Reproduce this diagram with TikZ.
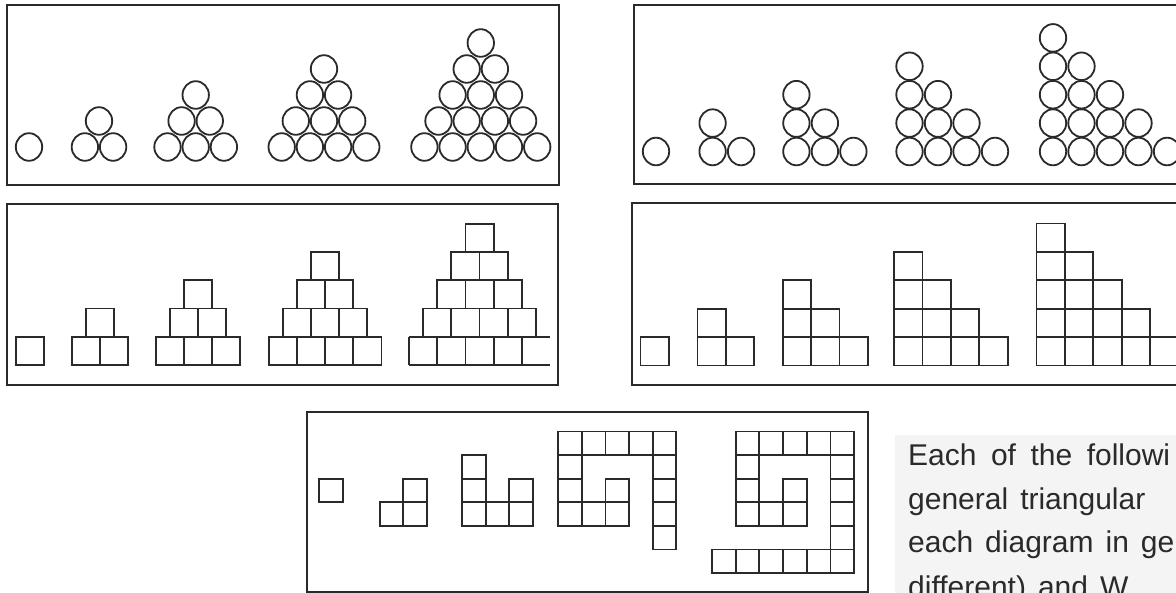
\documentclass[tikz,border=0pt]{standalone}
\usepackage{fontspec}
\setmainfont{Liberation Sans}
\begin{document}
\begin{tikzpicture}[x=1pt,y=-1pt]
\definecolor{ink}{HTML}{2A2A2A}
\tikzset{
  frame/.style={draw=ink, line width=1.4pt},
  ball/.style={draw=ink, line width=1.8pt},
  sq/.style={draw=ink, line width=1.8pt},
  para/.style={anchor=base west, inner sep=0pt, text=ink, font=\fontsize{30}{44}\selectfont},
}
\useasboundingbox (0,0) rectangle (1176,593);
\clip (0,0) rectangle (1176,593);
\fill[white] (0,0) rectangle (1176,593);

% frames
\draw[frame] (7,5) rectangle (559,185);
\draw[frame] (634,5) rectangle (1190,184);
\draw[frame] (7,204) rectangle (558,385);
\draw[frame] (632,203) rectangle (1190,385);
\draw[frame] (307,412) rectangle (868,592);

% top-left: triangular pyramids of circles
\foreach \cx/\n in {29/1, 99/2, 195.7/3, 324/4, 480.8/5}{
  \pgfmathtruncatemacro{\nm}{\n-1}
  \foreach \r in {0,...,\nm}{
    \pgfmathtruncatemacro{\k}{\n-\r-1}
    \foreach \i in {0,...,\k}{
      \draw[ball] ({\cx+(\i-\k/2)*28.2},{147-26*\r}) ellipse [x radius=13.2, y radius=13.8];
    }
  }
}

% top-right: staircases of circles
\foreach \xo/\n in {656/1, 712.6/2, 796.4/3, 909.5/4, 1053/5}{
  \pgfmathtruncatemacro{\nm}{\n-1}
  \foreach \j in {0,...,\nm}{
    \pgfmathtruncatemacro{\h}{\n-\j-1}
    \foreach \k in {0,...,\h}{
      \draw[ball] ({\xo+28.5*\j},{151.5-28.4*\k}) ellipse [x radius=13.2, y radius=13.8];
    }
  }
}

% middle-left: pyramids of squares
\foreach \cx/\n in {29.7/1, 100/2, 198/3, 325/4}{
  \pgfmathtruncatemacro{\nm}{\n-1}
  \foreach \r in {0,...,\nm}{
    \pgfmathtruncatemacro{\k}{\n-\r-1}
    \foreach \i in {0,...,\k}{
      \draw[sq] ({\cx+(\i-\k/2)*28.2-14.1},{365-28.2*\r}) rectangle +(28.2,-28.2);
    }
  }
}
\foreach \r in {1,...,4}{
  \pgfmathtruncatemacro{\k}{5-\r-1}
  \foreach \i in {0,...,\k}{
    \draw[sq] ({479.5+(\i-\k/2)*28.2-14.1},{365-28.2*\r}) rectangle +(28.2,-28.2);
  }
}
\draw[sq] (409,365) -- (550,365) (409,336.8) -- (550,336.8);
\foreach \i in {0,...,4}{
  \draw[sq] ({409+28.2*\i},365) -- ({409+28.2*\i},336.8);
}

% middle-right: staircases of squares
\foreach \xo/\n in {640.5/1, 697.4/2, 782.6/3, 894/4, 1036.4/5}{
  \pgfmathtruncatemacro{\nm}{\n-1}
  \foreach \j in {0,...,\nm}{
    \pgfmathtruncatemacro{\h}{\n-\j-1}
    \foreach \k in {0,...,\h}{
      \draw[sq] ({\xo+28.4*\j},{365.5-28.4*\k}) rectangle +(28.4,-28.4);
    }
  }
}

% bottom: spirals of squares
\def\bs{23.6}
\draw[sq] (319,478.7) rectangle +(\bs,\bs);
\foreach \x/\y in {379.6/502.3, 403.2/502.3, 403.2/478.7}{
  \draw[sq] (\x,\y) rectangle +(\bs,\bs);
}
\foreach \x/\y in {462/455.1, 462/478.7, 462/502.3, 485.6/502.3, 509.2/502.3, 509.2/478.7}{
  \draw[sq] (\x,\y) rectangle +(\bs,\bs);
}
\foreach \c/\r in {0/0,1/0,2/0,3/0,4/0, 0/1,0/2,0/3, 1/3,2/3, 2/2, 4/1,4/2,4/3,4/4}{
  \draw[sq] ({558.2+23.62*\c},{431.5+23.6*\r}) rectangle +(\bs,\bs);
}
\foreach \c/\r in {1/0,2/0,3/0,4/0,5/0, 1/1,1/2,1/3, 2/3,3/3, 3/2, 5/1,5/2,5/3,5/4,5/5, 0/5,1/5,2/5,3/5,4/5}{
  \draw[sq] ({712+23.7*\c},{431.5+23.6*\r}) rectangle +(\bs,\bs);
}

% text (justified paragraph, cut by the page edge)
\fill[ink!5] (895,435) rectangle (1176,593);
\node[para] (t1) at (908,466) {\spaceskip=14.5pt Each of the followi};
\node[para] (t2) at (908,509) {\spaceskip=12pt general triangular};
\node[para] (t3) at (908,552) {\spaceskip=12pt each diagram in ge};
\node[para] (t4) at (908,597) {\spaceskip=12pt different) and W};
\end{tikzpicture}
\end{document}
